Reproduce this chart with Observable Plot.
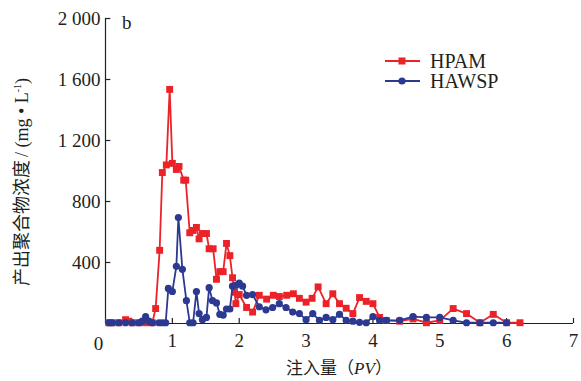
<!DOCTYPE html>
<html><head><meta charset="utf-8">
<script src="https://cdn.jsdelivr.net/npm/d3@7"></script>
<script src="https://cdn.jsdelivr.net/npm/@observablehq/plot@0.6"></script>
<style>body{margin:0;background:#fff} svg text{font-family:"Liberation Serif","Noto Sans CJK SC",serif !important}</style>
</head><body><div id="chart"></div>
<script>
const seriesNames = ["HPAM", "HAWSP"];
const hpamPV = [0.05,0.1,0.2,0.3,0.35,0.4,0.5,0.6,0.7,0.75,0.81,0.85,0.91,0.96,1.0,1.06,1.1,1.17,1.2,1.26,1.31,1.36,1.4,1.45,1.51,1.55,1.61,1.66,1.71,1.76,1.81,1.86,1.9,1.93,1.95,2.0,2.11,2.2,2.3,2.41,2.51,2.6,2.71,2.81,2.9,3.0,3.09,3.18,3.3,3.4,3.5,3.6,3.7,3.8,3.9,4.0,4.1,4.2,4.4,4.6,4.8,5.0,5.2,5.4,5.6,5.8,6.0,6.2];
const hpamVal = [5,5,5,25,15,5,5,5,5,98,480,990,1040,1535,1050,1010,1030,940,940,595,610,630,555,590,590,490,490,290,340,340,525,445,300,205,130,190,105,75,185,160,185,177,185,195,165,140,165,240,130,195,130,100,65,170,145,130,40,20,15,30,5,20,98,65,5,60,5,5];
const hawspPV = [0.05,0.1,0.2,0.3,0.4,0.5,0.55,0.6,0.65,0.7,0.8,0.85,0.9,0.94,1.0,1.06,1.09,1.15,1.21,1.26,1.31,1.36,1.4,1.45,1.51,1.55,1.6,1.66,1.71,1.76,1.81,1.86,1.9,1.95,2.0,2.05,2.11,2.2,2.3,2.4,2.5,2.6,2.7,2.8,2.9,3.0,3.1,3.2,3.3,3.4,3.5,3.6,3.7,3.8,3.9,4.0,4.1,4.2,4.4,4.6,4.8,5.0,5.2,5.4,5.6,5.8,6.0];
const hawspVal = [5,5,5,5,5,5,15,45,15,5,5,5,5,230,210,375,695,355,150,5,5,210,65,25,40,235,150,135,60,55,95,95,245,250,265,245,185,190,110,90,105,130,105,75,65,25,65,20,40,25,60,20,15,8,5,45,20,20,20,45,40,40,20,5,5,5,5];
const xTicks = [0,1,2,3,4,5,6,7];
const yTicks = [400,800,1200,1600,2000];
const yLabelCJK = "产出聚合物浓度";
const yLabelUnit = "/ (mg • L";
const panelLabel = "b";

const red = "#ec2229", blue = "#2b3990", ink = "#231f20";
const hpam = hpamPV.map((x,i)=>({x, y: hpamVal[i]}));
const hawsp = hawspPV.map((x,i)=>({x, y: hawspVal[i]}));
const fmt = v => d3.format(",")(v).replace(",", " ");

const plot = Plot.plot({
  width: 581, height: 381,
  marginLeft: 105, marginRight: 8, marginTop: 18, marginBottom: 58,
  style: {fontFamily: "Liberation Serif", fontSize: "19px", color: ink, background: "#fff"},
  x: {domain: [0,7]},
  y: {domain: [0,2000]},
  marks: [
    Plot.ruleX([0], {y1: 0, y2: 2000, stroke: ink, strokeWidth: 1.2}),
    Plot.ruleY([0], {x1: 0, x2: 7, stroke: ink, strokeWidth: 1.2}),
    Plot.ruleX(xTicks.slice(1), {x: d=>d, y1: 0, y2: 33, stroke: ink, strokeWidth: 1.2}),
    Plot.ruleY(yTicks, {y: d=>d, x1: 0, x2: 0.08, stroke: ink, strokeWidth: 1.2}),
    Plot.axisX(xTicks.slice(1), {tickSize: 0, tickPadding: 10, fontSize: 19, label: null}),
    Plot.text([0], {x: d=>d, y: 0, text: d=>String(d), dy: 20, dx: -7, fontSize: 19}),
    Plot.axisY(yTicks, {tickSize: 0, tickPadding: 5, tickFormat: fmt, fontSize: 19, label: null}),
    Plot.line(hpam, {x: "x", y: "y", stroke: red, strokeWidth: 1.8}),
    Plot.dot(hpam, {x: "x", y: "y", symbol: "square", r: 3.9, fill: red}),
    Plot.line(hawsp, {x: "x", y: "y", stroke: blue, strokeWidth: 1.8}),
    Plot.dot(hawsp, {x: "x", y: "y", symbol: "circle", r: 3.6, fill: blue})
  ]
});
document.getElementById("chart").appendChild(plot);

const svg = d3.select(plot);
// y-axis title
const yt = svg.append("text").attr("transform", "translate(28,182) rotate(-90)")
  .attr("text-anchor", "middle").attr("font-size", 18).attr("fill", ink);
yt.append("tspan").text(yLabelCJK);
yt.append("tspan").attr("dx", 3).text(yLabelUnit);
yt.append("tspan").attr("font-size", 10).attr("dy", -7).text("-1");
yt.append("tspan").attr("dy", 7).text(")");
// x-axis title
const xt = svg.append("text").attr("x", 339).attr("y", 374).attr("text-anchor", "middle")
  .attr("font-size", 17).attr("fill", ink);
xt.append("tspan").text("注入量（");
xt.append("tspan").attr("font-style", "italic").text("PV");
xt.append("tspan").text("）");
// panel label
svg.append("text").attr("x", 122).attr("y", 29).attr("text-anchor", "start").attr("font-size", 19).attr("fill", ink).text(panelLabel);
// legend
const leg = svg.append("g");
[[seriesNames[0], red, "square", 61], [seriesNames[1], blue, "circle", 81]].forEach(([name, c, sym, y]) => {
  leg.append("line").attr("x1", 385).attr("x2", 420).attr("y1", y).attr("y2", y).attr("stroke", c).attr("stroke-width", 1.8);
  if (sym === "square") leg.append("rect").attr("x", 398.5).attr("y", y-3.5).attr("width", 7).attr("height", 7).attr("fill", c);
  else leg.append("circle").attr("cx", 402).attr("cy", y).attr("r", 3.6).attr("fill", c);
  leg.append("text").attr("x", 430).attr("y", y+7).attr("text-anchor", "start").attr("font-size", 20).attr("fill", ink).text(name);
});
</script></body></html>
